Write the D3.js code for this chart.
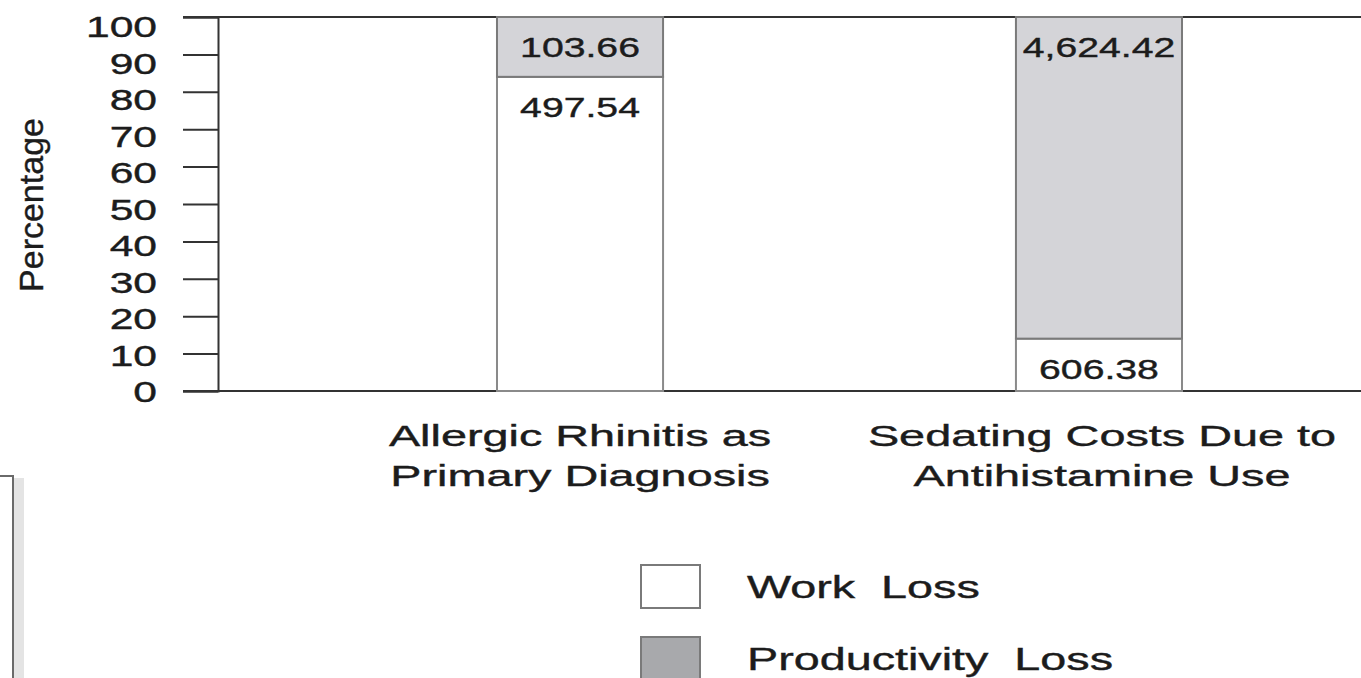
<!DOCTYPE html>
<html>
<head>
<meta charset="utf-8">
<script src="https://cdn.jsdelivr.net/npm/d3@7"></script>
<style>
    html, body { margin: 0; padding: 0; background: #fff; }
    svg { display: block; font-family: "Liberation Sans", Arial, sans-serif; }
    text { white-space: pre; fill: #1c1c1c; stroke: #1c1c1c; stroke-width: 0.4px; }
</style>
</head>
<body>
<div id="chart"></div>
<script>
// 数据
const categories = ["Allergic Rhinitis as\nPrimary Diagnosis", "Sedating Costs Due to\nAntihistamine Use"];
const workLossPct = [84, 14];            // 白色部分（百分比）
const productivityLossPct = [16, 86];    // 灰色部分（百分比）
const workLossCost = ["497.54", "606.38"];
const productivityLossCost = ["103.66", "4,624.42"];
const yTicks = [0, 10, 20, 30, 40, 50, 60, 70, 80, 90, 100];
const seriesNames = ["Work  Loss", "Productivity  Loss"];

const width = 1361;
const height = 678;
const axisX = 218;

const svg = d3.select("#chart")
    .append("svg")
    .attr("width", width)
    .attr("height", height);

// 比例尺
const y = d3.scaleLinear().domain([0, 100]).range([391, 17]);
const yLabel = d3.scaleLinear().domain([0, 100]).range([391, 26]);
const x = d3.scaleBand()
    .domain(categories)
    .range([axisX, 1461])
    .paddingInner(0.68)
    .paddingOuter(0.5376);

// 横向拉宽的文字
const wideText = (g, px, py, str, size, sx, anchor) => g.append("text")
    .attr("transform", `translate(${px},${py}) scale(${sx},1)`)
    .attr("text-anchor", anchor || "middle")
    .attr("font-size", size)
    .text(str);

// 左下角残留的方框
svg.append("rect")
    .attr("x", 14).attr("y", 478).attr("width", 10).attr("height", 210)
    .attr("fill", "#e4e4e4");
svg.append("rect")
    .attr("x", -4).attr("y", 476).attr("width", 17).attr("height", 210)
    .attr("fill", "#fff").attr("stroke", "#6a6a6a").attr("stroke-width", 2);

// Y轴
const yAxis = svg.append("g")
    .attr("transform", `translate(${axisX},0)`)
    .call(d3.axisLeft(y).tickValues(yTicks).tickSize(35).tickFormat(""));
yAxis.select(".domain").attr("stroke", "#333").attr("stroke-width", 2);
yAxis.selectAll(".tick line").attr("stroke", "#333").attr("stroke-width", 2);

yTicks.forEach(v => {
    wideText(svg, 157, yLabel(v) + 11, String(v), 30, 1.42, "end");
});

// 上下两条横线
[0, 100].forEach(v => {
    svg.append("line")
        .attr("x1", 183).attr("x2", width)
        .attr("y1", y(v)).attr("y2", y(v))
        .attr("stroke", "#333").attr("stroke-width", 2);
});

svg.append("text")
    .attr("transform", `translate(43,205) rotate(-90)`)
    .attr("text-anchor", "middle")
    .attr("font-size", 34)
    .text("Percentage");

// 堆叠柱
const bars = svg.append("g");
categories.forEach((c, i) => {
    const bx = x(c);
    const bw = x.bandwidth();
    const w = workLossPct[i];
    const p = productivityLossPct[i];

    bars.append("rect")
        .attr("x", bx).attr("y", y(w))
        .attr("width", bw).attr("height", y(0) - y(w))
        .attr("fill", "#ffffff").attr("stroke", "#8a8a8a").attr("stroke-width", 2);
    bars.append("rect")
        .attr("x", bx).attr("y", y(w + p))
        .attr("width", bw).attr("height", y(w) - y(w + p))
        .attr("fill", "#d4d4d8").attr("stroke", "#7a7a7a").attr("stroke-width", 2);

    wideText(bars, bx + bw / 2, y(w + p) + 40, productivityLossCost[i], 28, 1.4);
    wideText(bars, bx + bw / 2, y(w) + 40, workLossCost[i], 28, 1.4);

    // 分类标签
    c.split("\n").forEach((line, k) => {
        wideText(svg, bx + bw / 2 + (i === 1 ? 3 : 0), 446 + k * 40, line, 30, 1.56);
    });
});

// 图例
const legend = svg.append("g");
const legendFill = ["#ffffff", "#a8a9ac"];
seriesNames.forEach((name, i) => {
    const ly = 565 + i * 72;
    legend.append("rect")
        .attr("x", 641).attr("y", ly)
        .attr("width", 59).attr("height", 43)
        .attr("fill", legendFill[i]).attr("stroke", "#7a7a7a").attr("stroke-width", 2);
    wideText(legend, 747, ly + 33, name, 32, 1.46, "start");
});
</script>
</body>
</html>
